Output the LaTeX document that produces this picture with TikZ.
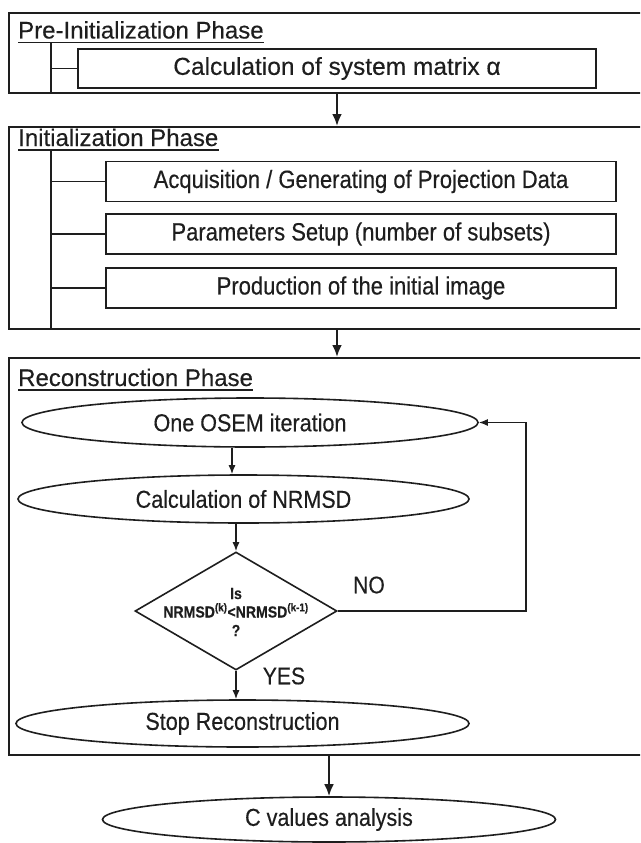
\documentclass[tikz,border=0pt]{standalone}
\usepackage{fontspec}
\setmainfont{Liberation Sans}
\newfontfamily\narrowsf[FakeStretch=0.88,FakeBold=0.3]{Liberation Sans}
\newfontfamily\plainsf[FakeBold=0.3]{Liberation Sans}
\usetikzlibrary{shapes.geometric,arrows.meta}
\definecolor{ink}{HTML}{1E1E1E}
\begin{document}
\begin{tikzpicture}[x=1pt,y=-1pt,
  every node/.style={text=ink},
  phase/.style={draw=ink, line width=1.9pt, rectangle, inner sep=0pt, anchor=north west},
  stepbox/.style={draw=ink, line width=1.6pt, rectangle, inner sep=0pt, font=\narrowsf\fontsize{25}{29}\selectfont},
  oval/.style={draw=ink, ellipse, line width=1.6pt, inner sep=0pt, font=\narrowsf\fontsize{24.5}{28}\selectfont},
  ttl/.style={anchor=base west, inner sep=0pt, font=\plainsf\fontsize{24}{28}\selectfont},
  lbl/.style={inner sep=0pt, font=\narrowsf\fontsize{24}{28}\selectfont},
  uline/.style={draw=ink, line width=1.4pt},
  bigarrow/.style={draw=ink, line width=2.6pt, -{Latex[length=12pt,width=10pt]}},
  smallarrow/.style={draw=ink, line width=1.4pt, -{Latex[length=9pt,width=7pt]}},
  tree/.style={draw=ink, line width=1.6pt},
]
\clip (0,0) rectangle (640,843);
\fill[white] (0,0) rectangle (640,843);

% phase frames
\node[phase, minimum width=650pt, minimum height=80pt] (pre) at (8,12) {};
\node[phase, minimum width=650pt, minimum height=202pt] (init) at (8,126) {};
\node[phase, minimum width=650pt, minimum height=397pt] (rec) at (8,357) {};

% titles
\node[ttl] (tpre) at (18,38.5) {Pre-Initialization Phase};
\node[ttl] (tinit) at (18,146) {Initialization Phase};
\node[ttl] (trec) at (18,386) {Reconstruction Phase};
\draw[uline] ([yshift=-4pt]tpre.base west) -- ([yshift=-4pt]tpre.base east);
\draw[uline] ([yshift=-4pt]tinit.base west) -- ([yshift=-4pt]tinit.base east);
\draw[uline] ([yshift=-4pt]trec.base west) -- ([yshift=-4pt]trec.base east);
\coordinate (ulpre) at ([yshift=-4pt]tpre.base west);
\coordinate (ulinit) at ([yshift=-4pt]tinit.base west);

% pre-initialization content
\coordinate (bx) at (51,0);
\node[stepbox, minimum width=518pt, minimum height=39pt, font=\plainsf\fontsize{24.5}{28}\selectfont] (calc) at (337,68.5) {Calculation of system matrix α};
\draw[tree] (bx |- ulpre) -- (bx |- pre.south);
\draw[tree] (bx |- calc.west) -- (calc.west);

% initialization content
\node[stepbox, minimum width=510pt, minimum height=40pt] (acq) at (361,181.5) {Acquisition / Generating of Projection Data};
\node[stepbox, minimum width=510pt, minimum height=40pt] (par) at (361,234) {Parameters Setup (number of subsets)};
\node[stepbox, minimum width=510pt, minimum height=40pt] (prod) at (361,288) {Production of the initial image};
\draw[tree] (bx |- ulinit) -- (bx |- init.south);
\draw[tree] (bx |- acq.west) -- (acq.west);
\draw[tree] (bx |- par.west) -- (par.west);
\draw[tree] (bx |- prod.west) -- (prod.west);

% reconstruction content
\node[oval, minimum width=456pt, minimum height=49pt] (osem) at (250,422.5) {One OSEM iteration};
\node[oval, minimum width=451pt, minimum height=48pt] (nrmsd) at (243.5,499) {Calculation of NRMSD};
\node[diamond, draw=ink, line width=1.6pt, inner sep=0pt, minimum width=202pt, minimum height=118pt] (dia) at (236,611) {};
\node[inner sep=0pt, align=center, font=\narrowsf\bfseries\fontsize{16}{18.5}\selectfont] (dtxt) at (236,612)
  {Is\\NRMSD\textsuperscript{(k)}<NRMSD\textsuperscript{(k-1)}\\?};
\node[oval, minimum width=453pt, minimum height=47pt] (stop) at (242.5,723.5) {Stop Reconstruction};
\node[oval, minimum width=453pt, minimum height=45pt] (cval) at (329,819.5) {C values analysis};

\node[lbl] (no) at (369,585) {NO};
\node[lbl] (yes) at (284,676) {YES};

% connectors
\coordinate (ax) at (337,0);
\coordinate (sx) at (232,0);
\coordinate (rx) at (526,0);
\draw[bigarrow] (ax |- pre.south) -- (ax |- init.north);
\draw[bigarrow] (ax |- init.south) -- (ax |- rec.north);
\draw[smallarrow] (sx |- osem.south) -- (sx |- nrmsd.north);
\draw[smallarrow] (dia.north |- nrmsd.south) -- (dia.north);
\draw[smallarrow] (dia.east) -- (dia.east -| rx) |- (osem.east);
\draw[smallarrow] (dia.south) -- (dia.south |- stop.north);
\draw[bigarrow] (cval.north |- rec.south) -- (cval.north);
\end{tikzpicture}
\end{document}
